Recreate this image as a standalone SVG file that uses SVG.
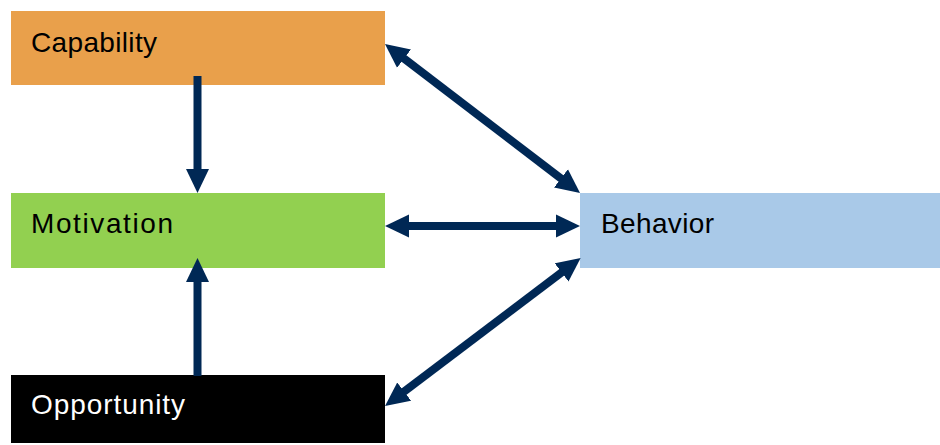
<svg xmlns="http://www.w3.org/2000/svg" width="940" height="445" viewBox="0 0 940 445">
  <style>
    .lbl { font-family: "Liberation Sans", Arial, sans-serif; font-size: 28px; fill: #000; }
    .conn { stroke: #002855; stroke-width: 8; fill: none; }
  </style>
  <defs>
    <marker id="ah" markerUnits="userSpaceOnUse" markerWidth="24" markerHeight="24" refX="12" refY="11.5" orient="auto-start-reverse" viewBox="0 0 24 23">
      <path d="M0,0 L24,11.5 L0,23 Z" fill="#002855"/>
    </marker>
  </defs>
  <rect width="940" height="445" fill="#ffffff"/>
  <g id="capability">
    <rect x="11" y="11" width="374" height="74" fill="#E9A04B"/>
    <text class="lbl" x="31" y="52" textLength="126">Capability</text>
  </g>
  <g id="motivation">
    <rect x="11" y="193" width="374" height="75" fill="#92D050"/>
    <text class="lbl" x="31" y="233" textLength="142">Motivation</text>
  </g>
  <g id="opportunity">
    <rect x="11" y="375" width="374" height="68" fill="#000000"/>
    <text class="lbl" x="31" y="414" textLength="154" style="fill:#ffffff">Opportunity</text>
  </g>
  <g id="behavior">
    <rect x="580" y="193" width="360" height="75" fill="#A9C9E8"/>
    <text class="lbl" x="601" y="233" textLength="113">Behavior</text>
  </g>
  <g id="connectors">
    <line class="conn" x1="197.5" y1="76" x2="197.5" y2="181" marker-end="url(#ah)"/>
    <line class="conn" x1="197.5" y1="376" x2="197.5" y2="270" marker-end="url(#ah)"/>
    <line class="conn" x1="394.5" y1="51.3" x2="570.5" y2="185.7" marker-start="url(#ah)" marker-end="url(#ah)"/>
    <line class="conn" x1="397" y1="226" x2="568" y2="226" marker-start="url(#ah)" marker-end="url(#ah)"/>
    <line class="conn" x1="571.1" y1="265.2" x2="394.6" y2="398.8" marker-start="url(#ah)" marker-end="url(#ah)"/>
  </g>
</svg>
